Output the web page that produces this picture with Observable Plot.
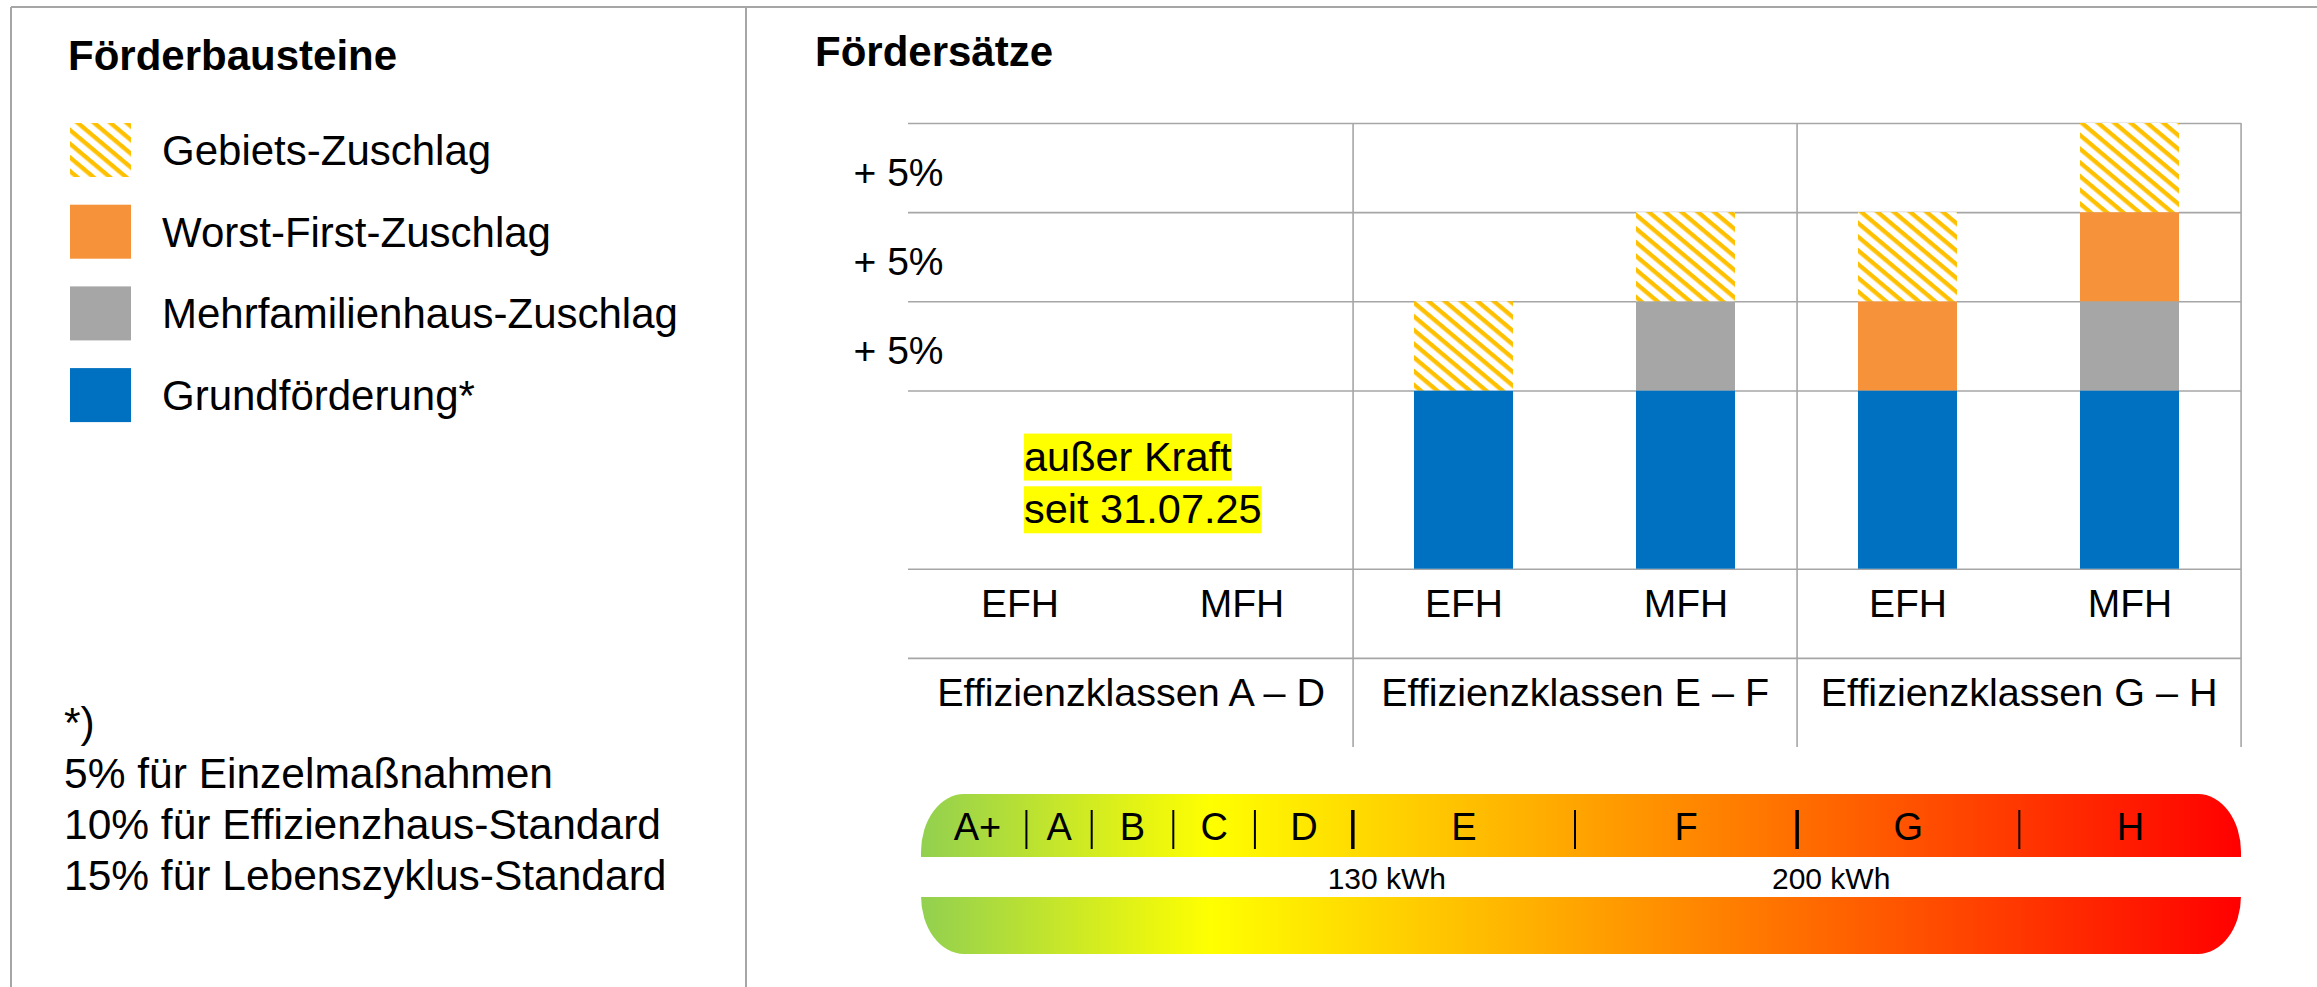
<!DOCTYPE html>
<html><head><meta charset="utf-8">
<script src="https://cdn.jsdelivr.net/npm/d3@7"></script>
<script src="https://cdn.jsdelivr.net/npm/@observablehq/plot@0.6"></script>
<style>
html,body{margin:0;padding:0;background:#fff;}
#page{position:relative;width:2317px;height:987px;overflow:hidden;font-family:"Liberation Sans",Arial,sans-serif;}
#page > svg{position:absolute;}
</style></head><body><div id="page"></div>
<script>
// ---------- data ----------
const groups = ["A – D", "E – F", "G – H"];
const houseTypes = ["EFH", "MFH"];
const components = ["Grundförderung*", "Mehrfamilienhaus-Zuschlag", "Worst-First-Zuschlag", "Gebiets-Zuschlag"];
// columns: A–D EFH, A–D MFH, E–F EFH, E–F MFH, G–H EFH, G–H MFH (heights as drawn, one step = 5 %)
const grundfoerderung   = [0, 0, 10, 10, 10, 10];
const mfhZuschlag       = [0, 0, 0, 5, 0, 5];
const worstFirstZuschlag= [0, 0, 0, 0, 5, 5];
const gebietsZuschlag   = [0, 0, 5, 5, 5, 5];
const stepLabel = "+ 5%";
const inactiveNote = ["außer Kraft", "seit 31.07.25"];
const groupPrefix = "Effizienzklassen ";
const legendTitle = "Förderbausteine";
const chartTitle = "Fördersätze";
const footnote = ["*)", "5% für Einzelmaßnahmen", "10% für Effizienzhaus-Standard", "15% für Lebenszyklus-Standard"];
const energyClasses = ["A+", "A", "B", "C", "D", "E", "F", "G", "H"];
const classUpperKWh = [30, 50, 75, 100, 130, 160, 200, 250, 300];
const kWhMarks = [130, 200];

// ---------- styles ----------
const componentColors = ["#0070c0", "#a6a6a6", "#f6923a", "url(#hatch)"];
const lineColor = "#a6a6a6";
const FONT = "Liberation Sans, Arial, sans-serif";

const page = document.getElementById("page");
const NS = "http://www.w3.org/2000/svg";

// ---------- background svg: frame, legend, footnote, titles, defs ----------
const bg = d3.select(page).append("svg").attr("width", 2317).attr("height", 987)
  .style("left", "0px").style("top", "0px").style("font-family", FONT);
const defs = bg.append("defs");
const pat = defs.append("pattern").attr("id", "hatch").attr("patternUnits", "userSpaceOnUse")
  .attr("width", 12).attr("height", 10.5).attr("patternTransform", "rotate(40)");
pat.append("rect").attr("width", 12).attr("height", 10.5).attr("fill", "#fff");
pat.append("rect").attr("width", 12).attr("height", 4.3).attr("fill", "#ffc000");
const grad = defs.append("linearGradient").attr("id", "energyGrad").attr("x1", 0).attr("x2", 1).attr("y1", 0).attr("y2", 0);
[[0, "#92d050"], [0.22, "#ffff00"], [1, "#ff0000"]].forEach(([o, c]) =>
  grad.append("stop").attr("offset", o).attr("stop-color", c));

bg.append("line").attr("x1", 11).attr("x2", 2317).attr("y1", 7).attr("y2", 7).attr("stroke", lineColor).attr("stroke-width", 2);
bg.append("line").attr("x1", 11).attr("x2", 11).attr("y1", 7).attr("y2", 987).attr("stroke", lineColor).attr("stroke-width", 2);
bg.append("line").attr("x1", 746).attr("x2", 746).attr("y1", 7).attr("y2", 987).attr("stroke", lineColor).attr("stroke-width", 2);

bg.append("text").attr("x", 68).attr("y", 70).attr("font-size", 42).attr("font-weight", "bold").text(legendTitle);
bg.append("text").attr("x", 815).attr("y", 66).attr("font-size", 42).attr("font-weight", "bold").text(chartTitle);

const legendItems = components.map((c, i) => ({c, fill: componentColors[i]})).reverse();
legendItems.forEach((d, i) => {
  const y0 = 123 + i * 81.7;
  bg.append("rect").attr("x", 70).attr("y", y0).attr("width", 61).attr("height", 54).attr("fill", d.fill);
  bg.append("text").attr("x", 162).attr("y", y0 + 42).attr("font-size", 42).text(d.c);
});
footnote.forEach((t, i) => {
  bg.append("text").attr("x", 64).attr("y", 737 + i * 51).attr("font-size", 42.5).text(t);
});

// ---------- main chart ----------
const columns = groups.flatMap(g => houseTypes.map(t => ({group: g, type: t, key: g + "|" + t})));
const series = [grundfoerderung, mfhZuschlag, worstFirstZuschlag, gebietsZuschlag];
const barData = components.flatMap((c, ci) => columns.map((col, i) => ({key: col.key, comp: c, value: series[ci][i]})));
const baseLevel = d3.max(grundfoerderung);
const stepSize = 5;
const yTop = baseLevel + 3 * stepSize;
const gridValues = [-stepSize, 0, baseLevel, baseLevel + stepSize, baseLevel + 2 * stepSize, yTop];
const tickValues = [0, 1, 2].map(i => baseLevel + stepSize * (i + 0.5));

const W = 1500, H = 680, ML = 108, MR = 59, MT = 23, MB = 33;
const colStep = (W - ML - MR) / columns.length;

const chart = Plot.plot({
  width: W, height: H, marginLeft: ML, marginRight: MR, marginTop: MT, marginBottom: MB,
  style: {fontFamily: FONT, fontSize: "39px", color: "#000", background: "transparent"},
  x: {domain: columns.map(d => d.key), paddingInner: 0.554, paddingOuter: 0.277, axis: null},
  y: {domain: [-2 * stepSize, yTop]},
  color: {domain: components, range: componentColors},
  marks: [
    Plot.ruleY(gridValues, {stroke: lineColor, strokeWidth: 1.6}),
    Plot.barY(barData, {x: "key", y: "value", fill: "comp", order: components}),
    Plot.ruleX(groups, {x: g => g + "|MFH", dx: colStep / 2, y1: -2 * stepSize, y2: yTop, stroke: lineColor, strokeWidth: 1.6}),
    Plot.axisY({ticks: tickValues, tickFormat: () => stepLabel, tickSize: 0, tickPadding: -35, dy: 5, fontSize: 39, label: null}),
    Plot.text(columns, {x: "key", y: -stepSize / 2, text: "type", dy: -9, fontSize: 39}),
    Plot.text(groups, {x: g => g + "|EFH", dx: colStep / 2, y: -1.5 * stepSize, text: g => groupPrefix + g, dy: -10, fontSize: 39.5}),
    Plot.text([inactiveNote.join("\n")], {x: () => columns[0].key, y: baseLevel / 2, text: d => d, textAnchor: "start", dx: 4, lineHeight: 1.27, fontSize: 41.5})
  ]
});
d3.select(chart).style("left", "800px").style("top", "100px");
page.appendChild(chart);

// yellow highlight behind the "außer Kraft" note
chart.querySelectorAll("text").forEach(t => {
  if (!t.textContent.includes(inactiveNote[0])) return;
  const spans = t.querySelectorAll("tspan");
  const list = spans.length ? Array.from(spans) : [t];
  list.forEach(s => {
    const b = s.getBBox();
    const r = document.createElementNS(NS, "rect");
    r.setAttribute("x", b.x); r.setAttribute("y", b.y + 1);
    r.setAttribute("width", b.width); r.setAttribute("height", b.height);
    r.setAttribute("fill", "#ffff00");
    if (t.getAttribute("transform")) r.setAttribute("transform", t.getAttribute("transform"));
    t.parentNode.insertBefore(r, t);
  });
});

// ---------- energy efficiency bar ----------
const EW = 1500, EH = 200, EMT = 14, EMB = 26;
const P1 = ML + 2 * colStep, P2 = ML + 4 * colStep, R = W - MR, L = 128;
const classLower = [0, ...classUpperKWh.slice(0, -1)];
const classData = energyClasses.map((c, i) => ({c, lo: classLower[i], hi: classUpperKWh[i]}));
const extent = [{lo: classLower[0], hi: classUpperKWh[classUpperKWh.length - 1]}];
const bounds = classUpperKWh.slice(0, -1);

const energy = Plot.plot({
  width: EW, height: EH, marginTop: EMT, marginBottom: EMB, marginLeft: 0, marginRight: 0,
  style: {fontFamily: FONT, fontSize: "38px", color: "#000", background: "transparent"},
  x: {type: "linear", domain: [0, 130, 160, 200, 250, 300], range: [L, P1, (P1 + P2) / 2, P2, (P2 + R) / 2, R], axis: null},
  marks: [
    Plot.rect(extent, {x1: "lo", x2: "hi", fill: "url(#energyGrad)", rx: 43, ry: 58, insetLeft: -7}),
    Plot.rect(extent, {x1: "lo", x2: "hi", fill: "#fff", insetTop: 63, insetBottom: 57, insetLeft: -8}),
    Plot.ruleX(bounds.filter(b => !kWhMarks.includes(b)), {x: d => d, insetTop: 16, insetBottom: 105, stroke: "#000", strokeWidth: 2}),
    Plot.ruleX(kWhMarks, {x: d => d, insetTop: 16, insetBottom: 105, stroke: "#000", strokeWidth: 3.5}),
    Plot.text(classData, {x: d => (d.lo + d.hi) / 2, text: "c", frameAnchor: "top", lineAnchor: "middle", dy: 33, fontSize: 38}),
    Plot.text(kWhMarks, {x: d => d, text: d => d + " kWh", frameAnchor: "top", lineAnchor: "middle", dy: 85, dx: 34, fontSize: 30})
  ]
});
d3.select(energy).style("left", "800px").style("top", "780px");
page.appendChild(energy);
</script></body></html>
